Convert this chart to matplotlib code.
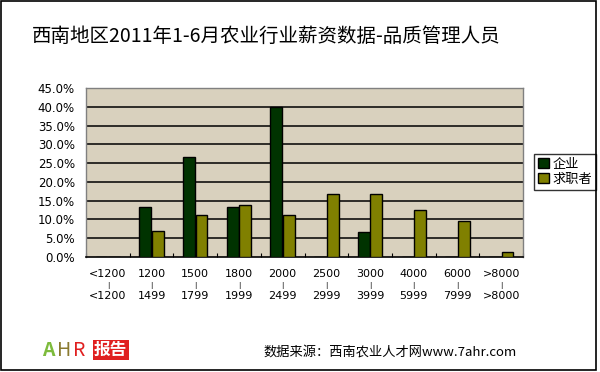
import matplotlib
matplotlib.use("Agg")
import matplotlib.pyplot as plt
from matplotlib.patches import Rectangle
import numpy as np

plt.rcParams['font.family'] = ['Noto Sans CJK SC', 'DejaVu Sans']

title = "西南地区2011年1-6月农业行业薪资数据-品质管理人员"
cat_top = ["<1200", "1200", "1500", "1800", "2000", "2500", "3000", "4000", "6000", ">8000"]
cat_bot = ["<1200", "1499", "1799", "1999", "2499", "2999", "3999", "5999", "7999", ">8000"]
series_names = ["企业", "求职者"]
qiye = [0.0, 13.3, 26.7, 13.3, 40.0, 0.0, 6.7, 0.0, 0.0, 0.0]
qiuzhi = [0.0, 6.9, 11.1, 13.9, 11.1, 16.7, 16.7, 12.5, 9.7, 1.4]
yticks = [0, 5, 10, 15, 20, 25, 30, 35, 40, 45]
source = "数据来源：西南农业人才网www.7ahr.com"

W, H = 600, 372
fig = plt.figure(figsize=(6, 3.72), dpi=100)
fig.patch.set_facecolor("white")

# outer border
fig.add_artist(Rectangle((1 / W, 1 - 370 / H), 595 / W, 369 / H, transform=fig.transFigure,
                         fill=False, edgecolor="black", linewidth=1.2))

ax = fig.add_axes([86 / W, 1 - 257 / H, (523 - 86) / W, (257 - 88) / H])
ax.set_facecolor("#D9D1BE")

x = np.arange(len(cat_top))
bw = 0.27
ax.bar(x - bw / 2 - 0.01, qiye, bw, color="#003300", edgecolor="black", linewidth=1, label=series_names[0], zorder=3)
ax.bar(x + bw / 2 + 0.01, qiuzhi, bw, color="#808000", edgecolor="black", linewidth=1, label=series_names[1], zorder=3)

ax.set_xlim(-0.5, len(cat_top) - 0.5)
ax.set_ylim(0, 45)
ax.set_yticks(yticks)
ax.set_yticklabels([f"{v:.1f}%" for v in yticks], fontsize=8.5, family="DejaVu Sans")
ax.tick_params(axis="y", length=0, pad=8)
for v in yticks[1:-1]:
    ax.axhline(v, color="black", linewidth=1.1, zorder=1)

ax.set_xticks(x)
ax.set_xticklabels(cat_top, fontsize=8, family="DejaVu Sans")
ax.tick_params(axis="x", length=0, pad=8.3)
# boundary ticks (inside)
ax.set_xticks(np.arange(len(cat_top) + 1) - 0.5, minor=True)
ax.tick_params(axis="x", which="minor", direction="in", length=3, width=0.8)

# separator bars between the two label lines
sec = ax.secondary_xaxis("bottom")
sec.set_xticks(x)
sec.set_xticklabels(["|"] * len(x), fontsize=5, family="DejaVu Sans")
sec.tick_params(axis="x", length=0, pad=18.2)
sec.spines["bottom"].set_visible(False)

# second line of the category labels
sec2 = ax.secondary_xaxis("bottom")
sec2.set_xticks(x)
sec2.set_xticklabels(cat_bot, fontsize=8, family="DejaVu Sans")
sec2.tick_params(axis="x", length=0, pad=24.6)
sec2.spines["bottom"].set_visible(False)

for s in ["top", "left", "right"]:
    ax.spines[s].set_color("#808080")
    ax.spines[s].set_linewidth(1)
ax.spines["bottom"].set_color("black")
ax.spines["bottom"].set_linewidth(1.2)

leg = ax.legend(loc="upper left", bbox_to_anchor=(534 / W, 1 - 154 / H), bbox_transform=fig.transFigure,
                fontsize=9.5, frameon=True, fancybox=False, handlelength=0.8, handleheight=0.8,
                handletextpad=0.3, borderpad=0.3, labelspacing=0.15, borderaxespad=0)
leg.get_frame().set_edgecolor("black")
leg.get_frame().set_linewidth(1)

fig.text(266 / W, 1 - 36 / H, title, fontsize=14, ha="center", va="center")
fig.text(390 / W, 1 - 352 / H, source, fontsize=9.5, ha="center", va="center")

# logo
fig.text(42 / W, 1 - 350 / H, "A", fontsize=14, color="#7DBB3C", ha="left", va="center", style="italic", weight="bold")
fig.text(57 / W, 1 - 350 / H, "H", fontsize=14, color="#8A7A30", ha="left", va="center")
fig.text(73 / W, 1 - 350 / H, "R", fontsize=14, color="#E02020", ha="left", va="center")
fig.text(94 / W, 1 - 350 / H, "报告", fontsize=12, color="white", weight="bold", ha="left", va="center",
         bbox=dict(boxstyle="square,pad=0.08", facecolor="#E02020", edgecolor="none"))

fig.savefig("out.png", dpi=100, facecolor="white")
